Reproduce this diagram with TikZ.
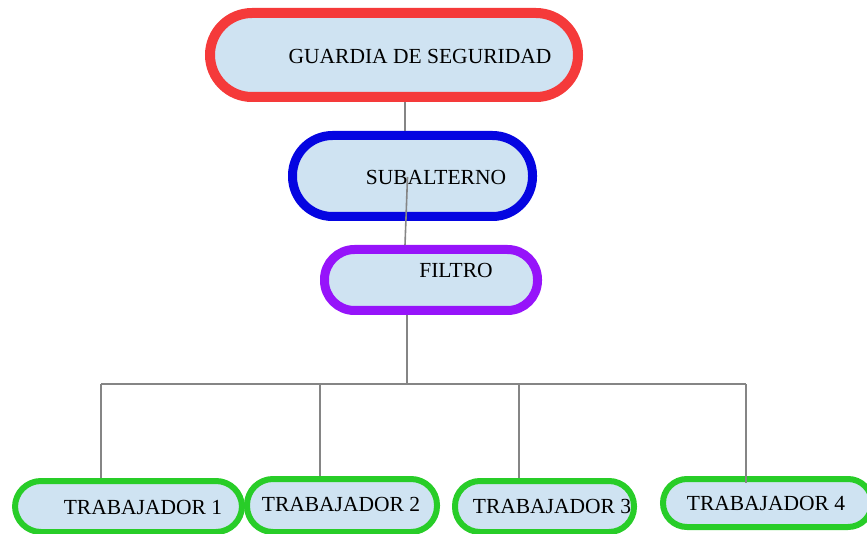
\documentclass[tikz,border=0pt]{standalone}
\usepackage{fontspec}
\setmainfont{Liberation Serif}
\usetikzlibrary{calc}

\definecolor{pillfill}{RGB}{207,227,242}
\definecolor{guardred}{RGB}{245,58,58}
\definecolor{subblue}{RGB}{5,5,225}
\definecolor{filtropurple}{RGB}{150,20,250}
\definecolor{workgreen}{RGB}{40,205,40}

\begin{document}
\begin{tikzpicture}[
  x=1pt, y=-1pt,
  pill/.style={draw, fill=pillfill, rounded corners=#1, inner sep=0pt},
  worker/.style={pill=#1, draw=workgreen, line width=6pt},
  lbl/.style={font=\rmfamily\fontsize{21.5}{24}\selectfont, text=black, inner sep=0pt},
  link/.style={draw=black!48, line width=1.6pt},
]
\useasboundingbox (0,0) rectangle (867,534);

% ---- top of the chart ----
\node[pill=42pt, draw=guardred, line width=10pt, minimum width=368pt, minimum height=84pt]
  (guardia) at (394,55) {};
\node[lbl] (guardiaTxt) at (420,56) {GUARDIA DE SEGURIDAD};

\node[pill=40pt, draw=subblue, line width=9pt, minimum width=240pt, minimum height=81pt]
  (subalterno) at (412.5,176) {};
\node[lbl] (subalternoTxt) at (436,177) {SUBALTERNO};

\node[pill=30pt, draw=filtropurple, line width=9pt, minimum width=213pt, minimum height=61pt]
  (filtro) at (431,280) {};
\node[lbl] (filtroTxt) at (456,270) {FILTRO};

% ---- workers ----
\node[worker=26pt, minimum width=227pt, minimum height=51pt] (trab1) at (128.5,506.5) {};
\node[lbl] (trab1Txt) at (143,507) {TRABAJADOR 1};
\node[worker=26pt, minimum width=190pt, minimum height=53pt] (trab2) at (342,505.5) {};
\node[lbl] (trab2Txt) at (341,504) {TRABAJADOR 2};
\node[worker=25pt, minimum width=179pt, minimum height=51pt] (trab3) at (544.5,506.5) {};
\node[lbl] (trab3Txt) at (552,506) {TRABAJADOR 3};
\node[worker=24pt, minimum width=209pt, minimum height=48pt] (trab4) at (767.5,503) {};
\node[lbl] (trab4Txt) at (766,503) {TRABAJADOR 4};

% ---- connectors ----
\coordinate (spine) at (405,0);
\coordinate (trunk) at (407,384);
\coordinate (d1) at (101,384);
\coordinate (d2) at (320,384);
\coordinate (d3) at (519,384);
\coordinate (d4) at (746,384);

\draw[link] (guardia.south -| spine) -- (subalterno.north -| spine);
\draw[link] ([xshift=-5pt,yshift=-1pt]subalterno.center) -- (filtro.north -| spine);
\draw[link, line width=2.6pt] (filtro.south -| trunk) -- (trunk);
\draw[link] (d1) -- (d4);
\draw[link] (d1) -- (d1 |- trab1.north);
\draw[link] (d2) -- (d2 |- trab2.north);
\draw[link] (d3) -- (d3 |- trab3.north);
\draw[link] (d4) -- ([yshift=-7pt]d4 |- trab4.north);
\end{tikzpicture}
\end{document}
